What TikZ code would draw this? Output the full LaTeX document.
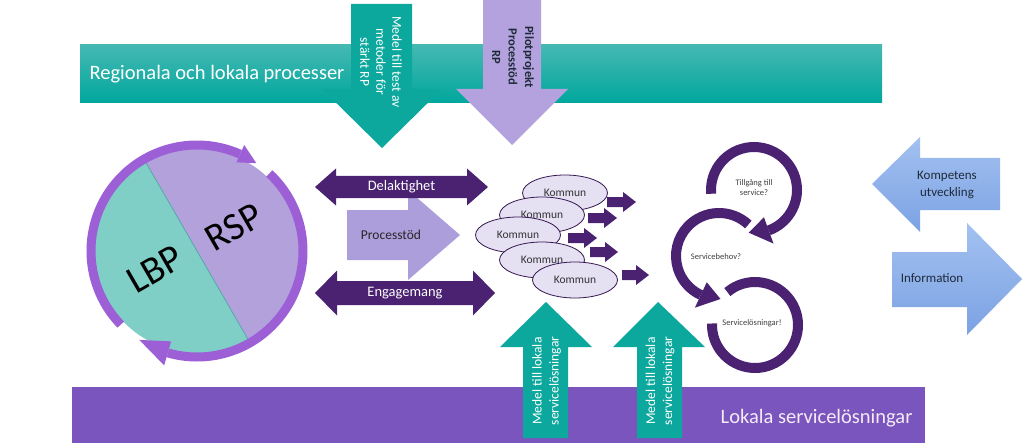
\documentclass[tikz,border=0pt]{standalone}
\usepackage{fontspec}
\setmainfont{Carlito}
\usetikzlibrary{shapes.geometric}
\definecolor{tealbar}{HTML}{00A79D}
\definecolor{teallight}{HTML}{45B8B2}
\definecolor{tealarrow}{HTML}{0CA89E}
\definecolor{lav}{HTML}{B3A2DD}
\definecolor{lavproc}{HTML}{AC9EDB}
\definecolor{dpurple}{HTML}{4A2271}
\definecolor{ringpurple}{HTML}{9C5FD6}
\definecolor{barpurple}{HTML}{7A55BE}
\definecolor{circteal}{HTML}{80CFC7}
\definecolor{circlav}{HTML}{B3A1DC}
\definecolor{kommunfill}{HTML}{E6E0F3}
\definecolor{bluetop}{HTML}{A3C1F1}
\definecolor{bluebot}{HTML}{7CA2E3}
\definecolor{darktext}{HTML}{1E2A3A}
\newcommand\smallarr[3]{\fill[dpurple] ({#1},{#3-5}) -- ({#2-13},{#3-5}) -- ({#2-13},{#3-10}) -- ({#2},{#3}) -- ({#2-13},{#3+10}) -- ({#2-13},{#3+5}) -- ({#1},{#3+5}) -- cycle;}
\tikzset{
  kommun/.style={ellipse, draw=dpurple!70!black, line width=0.8pt, fill=kommunfill, minimum width=85pt, minimum height=36pt, inner sep=0pt, font=\fontsize{11.5}{13}\selectfont, text=black!80},
  ringarc/.style={line width=9pt, draw=ringpurple},
  cyclearc/.style={line width=10pt, draw=dpurple},
  smalltxt/.style={font=\fontsize{8.5}{10}\selectfont, text=black!75, align=center},
  bigtxt/.style={rotate=30, inner sep=0pt, font=\fontsize{39}{42}\selectfont},
}
\begin{document}
\begin{tikzpicture}[x=1pt,y=1pt]
\useasboundingbox (0,0) rectangle (1024,445);
\fill[white] (0,0) rectangle (1024,445);

% top bar
\shade[top color=teallight, bottom color=tealbar] (80,342) rectangle (882,400);
\node[anchor=west, text=white, font=\fontsize{20.5}{24}\selectfont] (reg) at (86,371) {Regionala och lokala processer};

% down arrows
\fill[tealarrow] (351,441) -- (412,441) -- (412,356) -- (442,356) -- (382,297) -- (322,356) -- (351,356) -- cycle;
\node[rotate=-90, align=center, text=white, font=\fontsize{13.5}{16}\selectfont] (medel1) at (381,383) {Medel till test av\\metoder för\\stärkt RP};
\fill[lav] (483,445) -- (541,445) -- (541,356) -- (568,356) -- (512,300) -- (456,356) -- (483,356) -- cycle;
\node[rotate=-90, align=center, text=darktext, font=\bfseries\fontsize{12.5}{16.5}\selectfont] (pilot) at (513,388) {Pilotprojekt\\Processtöd\\RP};

% bottom bar
\fill[barpurple] (72,2) rectangle (925,58);
\node[anchor=east, text=white!92!violet, font=\fontsize{20.5}{24}\selectfont] (lokala) at (916,27) {Lokala servicelösningar};

% up arrows
\fill[tealarrow] (523,7) -- (568,7) -- (568,98) -- (592,98) -- (546,143) -- (500,98) -- (523,98) -- cycle;
\node[rotate=90, align=center, text=white, font=\fontsize{13.5}{17}\selectfont] (up1) at (546.5,64) {Medel till lokala\\servicelösningar};
\fill[tealarrow] (637,7) -- (682,7) -- (682,98) -- (705,98) -- (658,143) -- (613,98) -- (637,98) -- cycle;
\node[rotate=90, align=center, text=white, font=\fontsize{13.5}{17}\selectfont] (up2) at (660,64) {Medel till lokala\\servicelösningar};

% big circle
\coordinate (C) at (197,194);
\fill[circteal] (C) -- ([shift={(120:102)}]C) arc[start angle=120, end angle=300, radius=102] -- cycle;
\fill[circlav] (C) -- ([shift={(-60:102)}]C) arc[start angle=-60, end angle=120, radius=102] -- cycle;
\draw[draw=teal!70, line width=0.7pt] ([shift={(120:102)}]C) -- ([shift={(300:102)}]C);
\draw[ringarc] ([shift={(224:106)}]C) arc[start angle=224, end angle=66, radius=106];
\fill[ringpurple] ([shift={(66:97)}]C) -- ([shift={(66:116)}]C) -- ([shift={(56:106)}]C) -- cycle;
\draw[ringarc] ([shift={(47:106)}]C) arc[start angle=47, end angle=-106, radius=106];
\fill[ringpurple] ([shift={(-106:94)}]C) -- ([shift={(-106:119)}]C) -- ([shift={(-123:106)}]C) -- cycle;
\node[bigtxt] (lbp) at (155,176) {LBP};
\node[bigtxt] (rsp) at (234,218) {RSP};

% Processtöd arrow
\fill[lavproc] (347,235) -- (408,235) -- (408,255) -- (460,210) -- (408,165) -- (408,185) -- (347,185) -- cycle;
\node[text=black!85, font=\fontsize{13.5}{16}\selectfont] (proc) at (391,210) {Processtöd};

% double arrows
\fill[dpurple] (315,258) -- (336,276.5) -- (336,269) -- (467,269) -- (467,276.5) -- (488,258) -- (467,239.5) -- (467,247) -- (336,247) -- (336,239.5) -- cycle;
\node[text=white, font=\fontsize{14.5}{17}\selectfont] (del) at (401.5,258) {Delaktighet};
\fill[dpurple] (315,152) -- (337,174.5) -- (337,164) -- (473,164) -- (473,174.5) -- (495,152) -- (473,129.5) -- (473,140) -- (337,140) -- (337,129.5) -- cycle;
\node[text=white, font=\fontsize{14.5}{17}\selectfont] (eng) at (405,152) {Engagemang};

% Kommun ellipses
\node[kommun] (k1) at (565,252) {Kommun};
\node[kommun] (k2) at (542,230) {Kommun};
\node[kommun] (k3) at (518,210) {Kommun};
\node[kommun] (k4) at (542,185) {Kommun};
\node[kommun] (k5) at (575,165) {Kommun};

% small arrows
\smallarr{607}{636}{243}
\smallarr{588}{617}{227}
\smallarr{568}{597}{207}
\smallarr{590}{618}{193}
\smallarr{622}{649}{170}

% cycle arrows
\coordinate (C1) at (754,255);
\coordinate (C2) at (719,189);
\coordinate (C3) at (755,120);
\draw[cyclearc] ([shift={(185:43)}]C1) arc[start angle=185, end angle=-70, radius=43];
\fill[dpurple] ([shift={(-70:29)}]C1) -- ([shift={(-70:57)}]C1) -- ([shift={(-97:43)}]C1) -- cycle;
\draw[cyclearc] ([shift={(47:43)}]C2) arc[start angle=47, end angle=245, radius=43];
\fill[dpurple] ([shift={(245:29)}]C2) -- ([shift={(245:57)}]C2) -- ([shift={(272:43)}]C2) -- cycle;
\draw[cyclearc] ([shift={(130:43)}]C3) arc[start angle=130, end angle=-182, radius=43];
\node[smalltxt] (t1) at (754,257) {Tillgång till\\service?};
\node[smalltxt] (t2) at (716,188) {Servicebehov?};
\node[smalltxt] (t3) at (752,122) {Servicelösningar!};

% blue arrows
\shade[top color=bluetop, bottom color=bluebot] (872,261) -- (920,308) -- (920,287) -- (1000,287) -- (1000,235) -- (920,235) -- (920,213) -- cycle;
\node[align=center, text=darktext, font=\fontsize{13}{17}\selectfont] (komp) at (947,260) {Kompetens\\utveckling};
\shade[top color=bluetop, bottom color=bluebot] (892,193) -- (967,193) -- (967,222) -- (1022,166) -- (967,110) -- (967,138) -- (892,138) -- cycle;
\node[text=darktext, font=\fontsize{13}{16}\selectfont] (info) at (932,167) {Information};
\end{tikzpicture}
\end{document}
